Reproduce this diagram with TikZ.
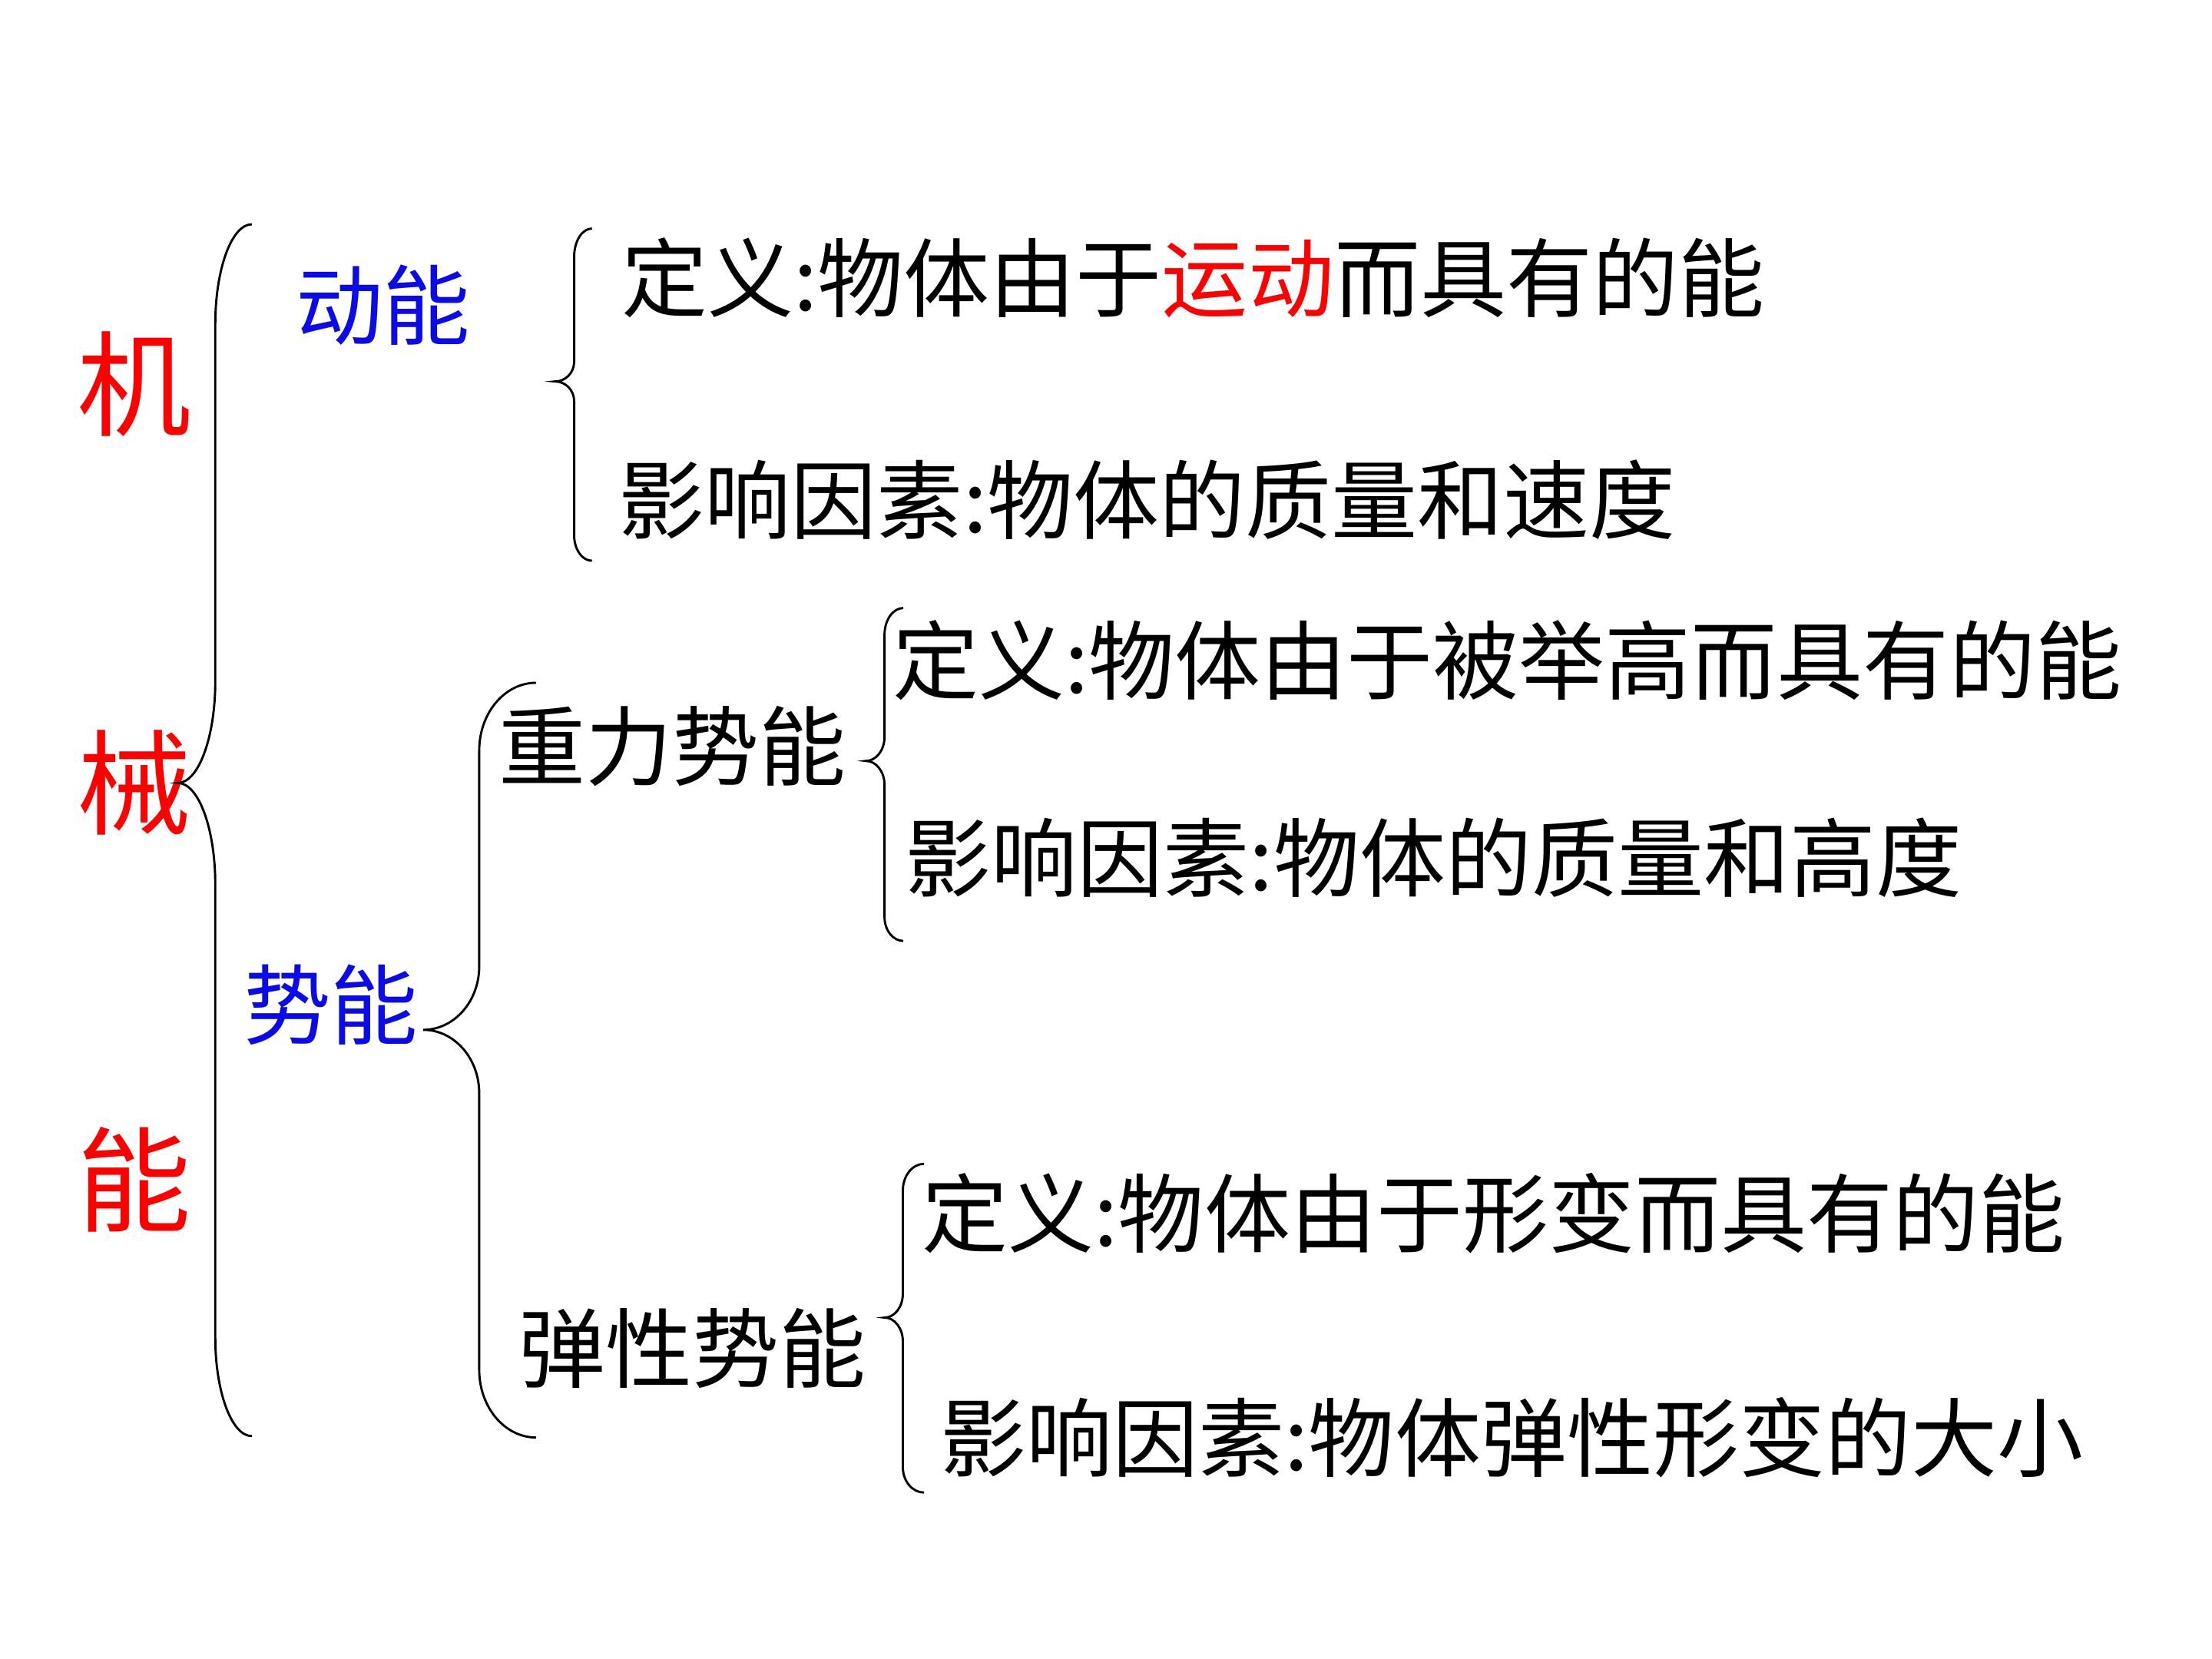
\documentclass[tikz,border=0pt]{standalone}
\usepackage{fontspec}
\setmainfont{Noto Sans CJK SC}
\definecolor{txtred}{RGB}{255,0,0}
\definecolor{txtblue}{RGB}{10,10,235}
\newcommand{\bracedraw}[9]{%
\draw[bracestyle] (#1,#4) .. controls ({#1-0.552*(#1-#2)},#4) and (#2,{#4+0.448*#7}) .. (#2,{#4+#7})
 -- (#2,{#5-#8}) .. controls (#2,{#5-0.448*#8}) and ({#3+0.552*(#2-#3)},#5) .. (#3,#5)
 .. controls ({#3+0.552*(#2-#3)},#5) and (#2,{#5+0.448*#8}) .. (#2,{#5+#8})
 -- (#2,{#6-#9}) .. controls (#2,{#6-0.448*#9}) and ({#1-0.552*(#1-#2)},#6) .. (#1,#6);}
\begin{document}
\begin{tikzpicture}[x=0.01cm,y=-0.01cm,
  bracestyle/.style={line width=0.45pt,black},
  bigred/.style={inner sep=0pt,text=txtred,font=\fontsize{23}{23}\selectfont},
  bluelab/.style={inner sep=0pt,anchor=west,text=txtblue,font=\fontsize{17.6}{17.6}\selectfont},
  sublab/.style={inner sep=0pt,anchor=west,text=black,font=\fontsize{17.5}{17.5}\selectfont},
  deftext/.style={inner sep=0pt,anchor=west,text=black,font=\fontsize{17.35}{17.35}\selectfont}]
\useasboundingbox (0,0) rectangle (1568,1176);
% main label
\node[bigred] (ji) at (95,272) {机};
\node[bigred] (xie) at (95,555) {械};
\node[bigred] (neng) at (95,836) {能};
% level 2
\node[bluelab] (dongneng) at (209,216) {动能};
\node[bluelab] (shineng) at (172,712) {势能};
% level 3
\node[sublab] (zhongli) at (353,529) {重力势能};
\node[sublab] (tanxing) at (367,956) {弹性势能};
% definitions
\node[deftext] (d1) at (440,197) {定义:物体由于{\color{txtred}运动}而具有的能};
\node[deftext] (f1) at (438,354) {影响因素:物体的质量和速度};
\node[deftext] (d2) at (632,468) {定义:物体由于被举高而具有的能};
\node[deftext] (f2) at (641,608) {影响因素:物体的质量和高度};
\node[deftext] (d3) at (653,860) {定义:物体由于形变而具有的能};
\node[deftext] (f3) at (666,1019) {影响因素:物体弹性形变的大小};
% braces
\bracedraw{178.5}{152.6}{126}{159}{555}{1018}{71}{72}{70}
\bracedraw{419.6}{407}{393.5}{162}{270.4}{397.5}{20}{14}{18}
\bracedraw{380}{339.7}{300}{484}{730}{1019}{48}{45}{48}
\bracedraw{640.3}{627}{613.8}{431}{539.4}{667}{19}{17}{17}
\bracedraw{655}{640}{627}{825}{934}{1058}{19}{17}{18}
\end{tikzpicture}
\end{document}
